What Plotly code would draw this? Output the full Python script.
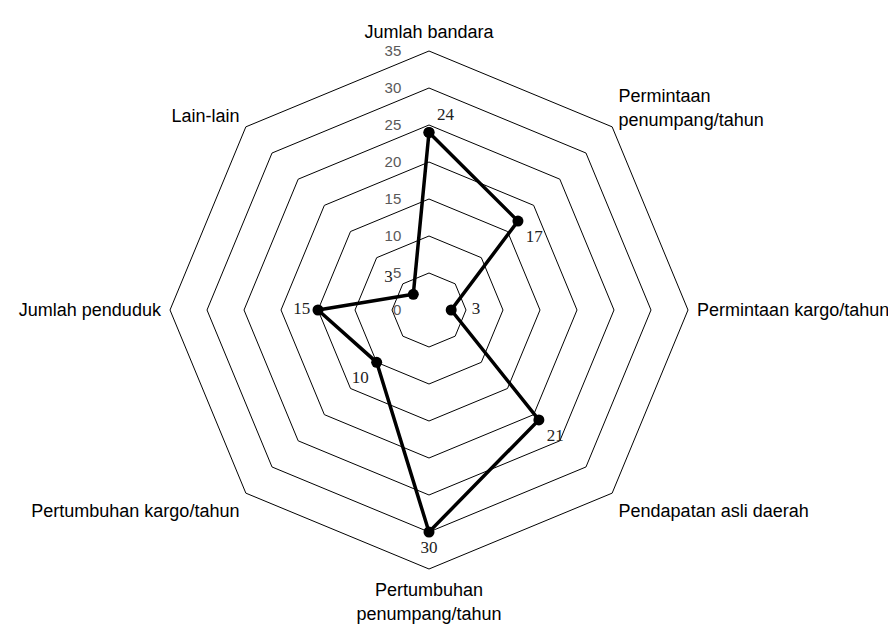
import plotly.graph_objects as go

categories = [
    "Jumlah bandara",
    "Permintaan<br>penumpang/tahun",
    "Permintaan kargo/tahun",
    "Pendapatan asli daerah",
    "Pertumbuhan<br>penumpang/tahun",
    "Pertumbuhan kargo/tahun",
    "Jumlah penduduk",
    "Lain-lain",
]
values = [24, 17, 3, 21, 30, 10, 15, 3]
label_positions = ["top right", "bottom right", "middle right", "bottom right",
                   "bottom center", "bottom left", "middle left", "top left"]
radial_ticks = [0, 5, 10, 15, 20, 25, 30, 35]

labels = [str(v) for v in values]
labels[2] = "   " + labels[2]
labels[7] = labels[7] + "\u00a0\u00a0\u00a0"
pad = "\u00a0" * 6
radial_ticktext = [str(t) + pad for t in radial_ticks]

fig = go.Figure()
fig.add_trace(go.Scatterpolar(
    r=values + [values[0]],
    theta=categories + [categories[0]],
    mode="lines+markers+text",
    text=labels + [""],
    textposition=label_positions + ["top right"],
    textfont=dict(family="Liberation Serif, Times New Roman, serif", size=17, color="#222"),
    line=dict(color="black", width=3.5),
    marker=dict(color="black", size=11),
    cliponaxis=False,
    showlegend=False,
))

fig.update_layout(
    width=896, height=628,
    margin=dict(l=162, r=216, t=43, b=67),
    paper_bgcolor="white",
    plot_bgcolor="white",
    polar=dict(
        bgcolor="white",
        gridshape="linear",
        radialaxis=dict(
            range=[0, 35],
            tickvals=radial_ticks,
            ticktext=radial_ticktext,
            angle=90,
            tickangle=90,
            side="counterclockwise",
            showline=False,
            ticks="",
            gridcolor="black",
            gridwidth=1,
            tickfont=dict(family="Liberation Sans, Arial, sans-serif", size=15, color="#595959"),
        ),
        angularaxis=dict(
            rotation=90,
            direction="clockwise",
            showgrid=False,
            showline=True,
            linecolor="black",
            linewidth=1,
            ticks="outside",
            ticklen=5,
            tickcolor="rgba(0,0,0,0)",
            tickfont=dict(family="Liberation Sans, Arial, sans-serif", size=18, color="black"),
        ),
    ),
)

fig.write_html("out.html")
